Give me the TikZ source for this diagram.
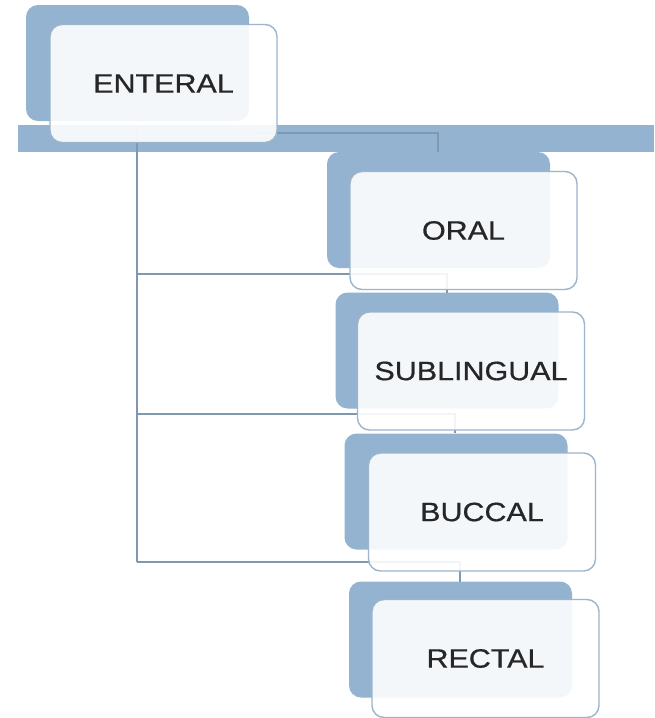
\documentclass[tikz,border=0pt]{standalone}
\usepackage{fontspec}
\usepackage{graphicx}
\setmainfont{Liberation Sans}[BoldFont=Liberation Sans, BoldFeatures={FakeBold=0.6}]
\definecolor{bk}{HTML}{93B3D0}
\definecolor{bd}{HTML}{9DB5CB}
\definecolor{ln}{HTML}{7F97AF}
\tikzset{
  backbox/.style={fill=bk, rounded corners=12pt, minimum width=223pt, minimum height=116pt, inner sep=0pt},
  frontbox/.style={draw=bd, line width=1.4pt, fill=white, fill opacity=0.9, text opacity=1, text=black!85, rounded corners=12pt, minimum width=227pt, minimum height=118pt, inner sep=0pt, font=\fontsize{26.5}{30}\selectfont\bfseries},
  conn/.style={draw=ln, line width=1.4pt}
}
\newcommand{\lbl}[1]{\scalebox{1.15}[1]{#1}}
\begin{document}
\begin{tikzpicture}[x=1pt,y=-1pt]
\useasboundingbox (0,0) rectangle (654,718);
\fill[white] (0,0) rectangle (654,718);
% band
\fill[bk] (18,125) rectangle (654,152);
% back boxes
\node[backbox] (eb) at (137.5,63) {};
\node[backbox] (ob) at (438.5,210) {};
\node[backbox] (sb) at (447,350.5) {};
\node[backbox] (bb) at (456,491.5) {};
\node[backbox] (rb) at (460.5,639.5) {};
% connector points
\coordinate (c0) at (250,133);
\coordinate (c1) at (438,133);
\coordinate (c2) at (438,152);
\coordinate (t0) at (137,125);
\coordinate (t1) at (137,274);
\coordinate (t2) at (137,414);
\coordinate (t3) at (137,562);
\coordinate (o1) at (447,274);
\coordinate (o2) at (447,293);
\coordinate (s1) at (455,414);
\coordinate (s2) at (455,433);
\coordinate (b1) at (460,562);
\coordinate (b2) at (460,582);
\draw[conn] (c0) -- (c1) -- (c2);
\draw[conn] (t0) -- (t3);
\draw[conn] (t1) -- (o1) -- (o2);
\draw[conn] (t2) -- (s1) -- (s2);
\draw[conn] (t3) -- (b1) -- (b2);
% front boxes
\node[frontbox] (ef) at (163.5,83.5) {\lbl{ENTERAL}};
\node[frontbox] (of) at (463.5,230.5) {\lbl{ORAL}};
\node[frontbox] (sf) at (471,371) {\lbl{SUBLINGUAL}};
\node[frontbox] (bf) at (482,512) {\lbl{BUCCAL}};
\node[frontbox] (rf) at (485.5,658.5) {\lbl{RECTAL}};
\end{tikzpicture}
\end{document}
